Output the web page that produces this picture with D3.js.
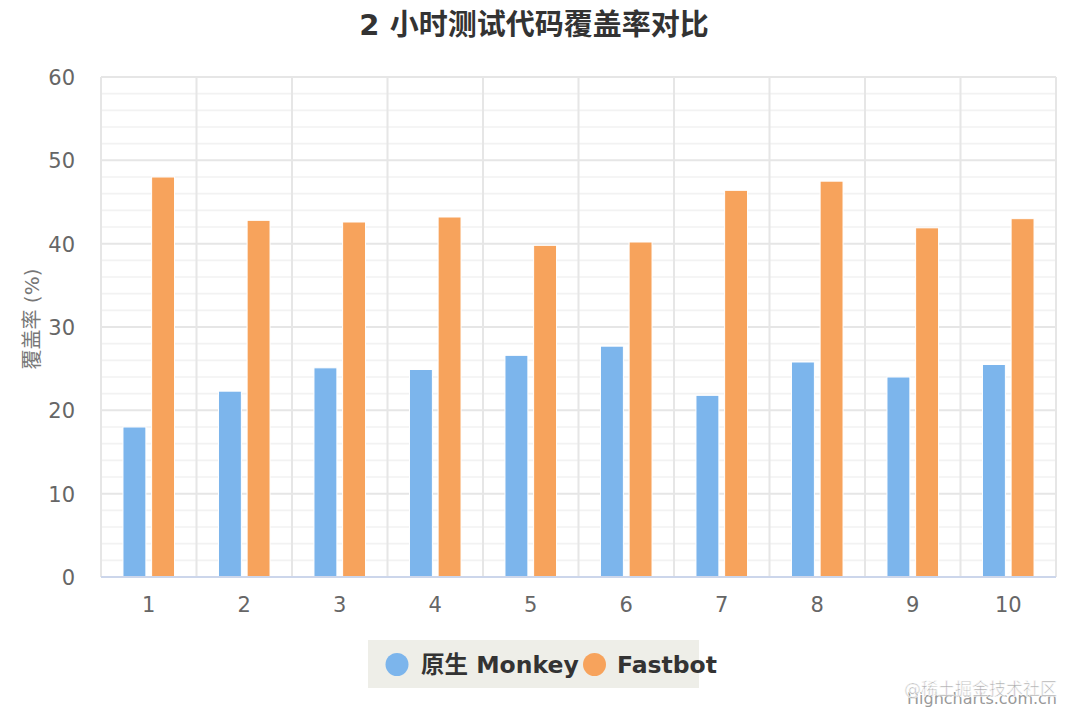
<!DOCTYPE html>
<html>
<head>
<meta charset="utf-8">
<script src="https://cdn.jsdelivr.net/npm/d3@7/dist/d3.min.js"></script>
<style>
  html, body { margin: 0; padding: 0; background: #fff; }
  svg { display: block; font-family: "DejaVu Sans", "Noto Sans CJK SC", sans-serif; }
</style>
</head>
<body>
<svg id="chart" width="1080" height="720"></svg>
<script>
// ---- data ----
const categories = ["1", "2", "3", "4", "5", "6", "7", "8", "9", "10"];
const seriesNames = ["原生 Monkey", "Fastbot"];
const monkeyValues = [18.0, 22.3, 25.1, 24.9, 26.6, 27.7, 21.8, 25.8, 24.0, 25.5];
const fastbotValues = [48.0, 42.8, 42.6, 43.2, 39.8, 40.2, 46.4, 47.5, 41.9, 43.0];
const yTicks = [0, 10, 20, 30, 40, 50, 60];
const titleText = "2 小时测试代码覆盖率对比";
const yAxisTitle = "覆盖率 (%)";
const seriesColors = ["#7cb5ec", "#f7a35c"];

const seriesValues = [monkeyValues, fastbotValues];

const svg = d3.select("#chart");
const plot = { left: 101, right: 1056, top: 77, bottom: 577 };

const x0 = d3.scaleBand().domain(categories).range([plot.left, plot.right]).padding(0);
const x1 = d3.scaleBand().domain(seriesNames)
  .range([x0.bandwidth() * 0.2, x0.bandwidth() * 0.8])
  .paddingInner(0.2).paddingOuter(0.1);
const y = d3.scaleLinear().domain([0, 60]).range([plot.bottom, plot.top]);

// minor gridlines
const minorTicks = d3.range(0, 61, 2).filter(v => v % 10 !== 0);
svg.append("g").selectAll("line").data(minorTicks).join("line")
  .attr("x1", plot.left).attr("x2", plot.right)
  .attr("y1", d => y(d)).attr("y2", d => y(d))
  .attr("stroke", "#f2f2f2").attr("stroke-width", 1.6);

// major horizontal gridlines
svg.append("g").selectAll("line").data(yTicks.filter(v => v > 0)).join("line")
  .attr("x1", plot.left).attr("x2", plot.right)
  .attr("y1", d => y(d)).attr("y2", d => y(d))
  .attr("stroke", "#e6e6e6").attr("stroke-width", 2);

// vertical category gridlines
const vLines = categories.map(c => x0(c)).concat([x0(categories[categories.length - 1]) + x0.bandwidth()]);
svg.append("g").selectAll("line").data(vLines).join("line")
  .attr("x1", d => d).attr("x2", d => d)
  .attr("y1", plot.top).attr("y2", plot.bottom)
  .attr("stroke", "#e6e6e6").attr("stroke-width", 2);

// bars
const groups = svg.append("g").selectAll("g").data(categories).join("g")
  .attr("transform", c => `translate(${x0(c)},0)`);
groups.selectAll("rect")
  .data((c, i) => seriesNames.map((s, k) => ({ s, k, v: seriesValues[k][i] })))
  .join("rect")
  .attr("x", d => x1(d.s))
  .attr("width", x1.bandwidth())
  .attr("y", d => y(d.v))
  .attr("height", d => y(0) - y(d.v))
  .attr("fill", d => seriesColors[d.k])
  .attr("stroke", "#ffffff").attr("stroke-width", 1);

// x axis line
svg.append("line")
  .attr("x1", plot.left).attr("x2", plot.right)
  .attr("y1", plot.bottom).attr("y2", plot.bottom)
  .attr("stroke", "#ccd6eb").attr("stroke-width", 2);

// x axis labels
const xAxis = d3.axisBottom(x0).tickSize(0).tickPadding(0);
const xg = svg.append("g").attr("transform", `translate(0,${plot.bottom})`).call(xAxis);
xg.select(".domain").remove();
xg.selectAll("text")
  .attr("y", 35).attr("dy", null)
  .attr("fill", "#666666")
  .style("font-size", "21px")
  .style("font-family", '"DejaVu Sans", sans-serif');

// y axis labels
const yAxis = d3.axisLeft(y).tickValues(yTicks).tickSize(0).tickPadding(0);
const yg = svg.append("g").attr("transform", `translate(75,0)`).call(yAxis);
yg.select(".domain").remove();
yg.selectAll("text")
  .attr("dy", "0.36em")
  .attr("fill", "#666666")
  .style("font-size", "21px")
  .style("font-family", '"DejaVu Sans", sans-serif');

// y axis title
svg.append("text")
  .attr("transform", "translate(39,319) rotate(-90)")
  .attr("text-anchor", "middle")
  .attr("fill", "#777777")
  .style("font-size", "20px")
  .text(yAxisTitle);

// title
svg.append("text")
  .attr("x", 534).attr("y", 35)
  .attr("text-anchor", "middle")
  .attr("fill", "#333333")
  .style("font-size", "29px")
  .style("font-weight", "bold")
  .text(titleText);

// legend
const legend = svg.append("g");
legend.append("rect")
  .attr("x", 368).attr("y", 640).attr("width", 331).attr("height", 48)
  .attr("fill", "#eeeee8");
const legendItems = [
  { name: seriesNames[0], color: seriesColors[0], cx: 397, tx: 421 },
  { name: seriesNames[1], color: seriesColors[1], cx: 594.5, tx: 617 }
];
legend.selectAll("circle").data(legendItems).join("circle")
  .attr("cx", d => d.cx).attr("cy", 664.5).attr("r", 11.5)
  .attr("fill", d => d.color);
legend.selectAll("text").data(legendItems).join("text")
  .attr("x", d => d.tx).attr("y", 673)
  .attr("fill", "#333333")
  .style("font-size", "23.5px")
  .style("font-weight", "bold")
  .text(d => d.name);

// watermark
svg.append("text")
  .attr("x", 1057).attr("y", 704)
  .attr("text-anchor", "end")
  .attr("fill", "#999999")
  .style("font-size", "16px")
  .text("Highcharts.com.cn");
svg.append("text")
  .attr("x", 1057).attr("y", 695)
  .attr("text-anchor", "end")
  .attr("fill", "#aaaaaa")
  .attr("stroke", "#ffffff").attr("stroke-width", 0.6)
  .style("font-size", "17px")
  .text("@稀土掘金技术社区");
</script>
</body>
</html>
